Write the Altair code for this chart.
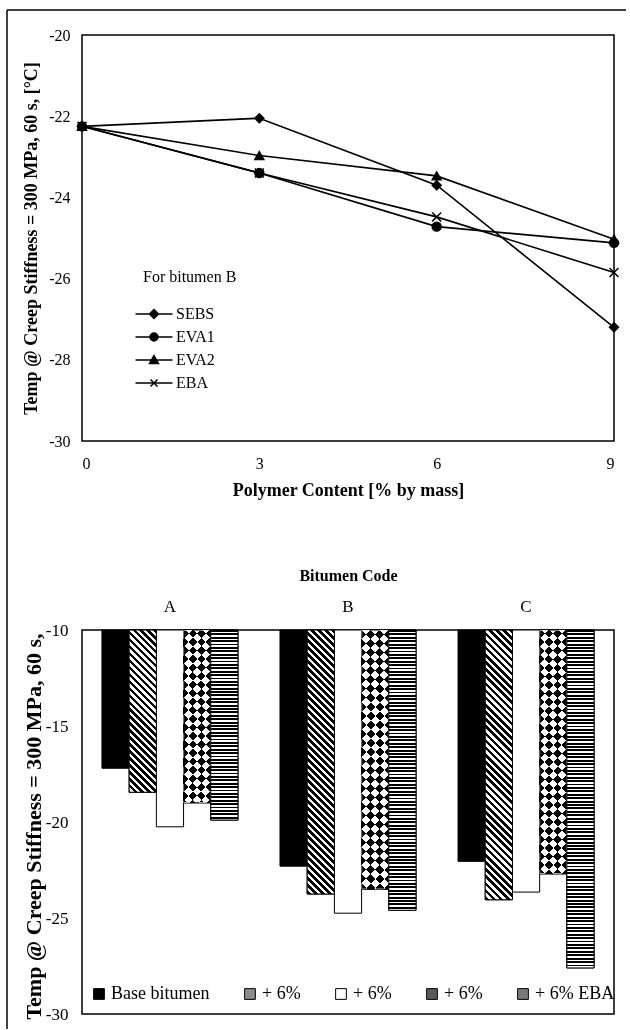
import math
import altair as alt
import pandas as pd

# ---------------- data ----------------
polymer = [0, 3, 6, 9]
line_series = ["SEBS", "EVA1", "EVA2", "EBA"]
sebs_line = [-22.25, -22.05, -23.7, -27.2]
eva1_line = [-22.25, -23.4, -24.72, -25.12]
eva2_line = [-22.25, -22.97, -23.47, -25.03]
eba_line = [-22.25, -23.4, -24.48, -25.85]

codes = ["A", "B", "C"]
bar_series = ["Base bitumen", "+ 6% SEBS", "+ 6% EVA1", "+ 6% EVA2", "+ 6% EBA"]
base_vals = [-17.2, -22.3, -22.05]
sebs_vals = [-18.45, -23.75, -24.05]
eva1_vals = [-20.25, -24.75, -23.65]
eva2_vals = [-19.0, -23.5, -22.7]
eba_vals = [-19.9, -24.6, -27.6]

top_y_ticks = [-30, -28, -26, -24, -22, -20]
bot_y_ticks = [-30, -25, -20, -15, -10]

line_rows = []
for name, vals in zip(line_series, [sebs_line, eva1_line, eva2_line, eba_line]):
    for p, v in zip(polymer, vals):
        line_rows.append({"polymer": p, "temp": v, "series": name})
line_df = pd.DataFrame(line_rows)

bar_rows = []
for name, vals in zip(bar_series, [base_vals, sebs_vals, eva1_vals, eva2_vals, eba_vals]):
    for c, v in zip(codes, vals):
        bar_rows.append({"code": c, "series": name, "value": v})
bar_df = pd.DataFrame(bar_rows)

# ---------------- style ----------------
FONT = "Liberation Serif"
W1, H1 = 532, 406
W2, H2 = 532, 384
P_IN, P_OUT = 0.236, 0.112
HYPHEN = "replace(datum.label, '\u2212', '-')"

# ---------------- top chart ----------------
x_top = alt.X("polymer:Q", scale=alt.Scale(domain=[0, 9]),
              axis=alt.Axis(values=polymer, title="Polymer Content [% by mass]",
                            labelFontSize=16, titleFontSize=18,
                            labelPadding=14, tickSize=0, titleX=W1 / 2, titleY=49,
                            titleBaseline="middle"))
y_top = alt.Y("temp:Q", scale=alt.Scale(domain=[-30, -20]),
              axis=alt.Axis(values=top_y_ticks, title="Temp @ Creep Stiffness = 300 MPa, 60 s, [°C]",
                            labelFontSize=16, titleFontSize=18,
                            labelPadding=12, tickSize=0, titleX=-51, titleY=H1 / 2,
                            titleBaseline="middle", titleAlign="center", labelExpr=HYPHEN))

frame_top_h = alt.Chart(alt.Data(values=[{}])).mark_rule(color="black", strokeWidth=1.5).encode(
    x=alt.value(-75), x2=alt.value(W1 + 12), y=alt.value(-25))
frame_top_v = alt.Chart(alt.Data(values=[{}])).mark_rule(color="black", strokeWidth=1.5).encode(
    x=alt.value(-75), y=alt.value(-25), y2=alt.value(H1 + 93))

lines = alt.Chart(line_df).mark_line(color="black", strokeWidth=1.6).encode(
    x=x_top, y=y_top, detail="series:N")

X_PATH = "M-1,-1L1,1M-1,1L1,-1"
points = alt.Chart(line_df).mark_point(fill="black", stroke="black", strokeWidth=1.5,
                                       size=80, opacity=1).encode(
    x=x_top, y=y_top,
    shape=alt.Shape("series:N", scale=alt.Scale(domain=line_series,
                                                range=["diamond", "circle", "triangle-up", X_PATH]),
                    legend=None))

# legend symbols: a line with the marker on it (markers drawn as nested outlines so they look solid)
ARM = "M-1.85,0H1.85"
leg_paths = [
    ARM + "M-0.45,0L0,-0.45L0.45,0L0,0.45ZM-0.3,0L0,-0.3L0.3,0L0,0.3ZM-0.15,0L0,-0.15L0.15,0L0,0.15Z",
    ARM + "M-0.4,0A0.4,0.4,0,1,0,0.4,0A0.4,0.4,0,1,0,-0.4,0Z"
          "M-0.25,0A0.25,0.25,0,1,0,0.25,0A0.25,0.25,0,1,0,-0.25,0Z"
          "M-0.1,0A0.1,0.1,0,1,0,0.1,0A0.1,0.1,0,1,0,-0.1,0Z",
    ARM + "M0,-0.45L0.45,0.35L-0.45,0.35ZM0,-0.2L0.25,0.25L-0.25,0.25ZM0,0L0.1,0.2L-0.1,0.2Z",
    ARM + "M-0.35,-0.35L0.35,0.35M-0.35,0.35L0.35,-0.35",
]
legend_layer = alt.Chart(line_df).transform_filter("false").mark_point(
    filled=False, color="black", strokeWidth=1.5, opacity=1).encode(
    x=x_top, y=y_top,
    shape=alt.Shape("series:N", scale=alt.Scale(domain=line_series, range=leg_paths),
                    legend=alt.Legend(title="For bitumen B", orient="none", legendX=61, legendY=234,
                                      symbolSize=400, labelOffset=11, rowPadding=4, padding=0,
                                      titlePadding=18, symbolStrokeWidth=1.5,
                                      labelFontSize=16, titleFontSize=16,
                                      symbolStrokeColor="black", symbolOpacity=1)))

top = alt.layer(frame_top_h, frame_top_v, lines, points, legend_layer).resolve_scale(
    shape="independent").properties(width=W1, height=H1)

# ---------------- bottom chart ----------------
x_bot = alt.X("code:N", scale=alt.Scale(paddingInner=P_IN, paddingOuter=P_OUT),
              axis=alt.Axis(orient="top", title="Bitumen Code", labelAngle=0, tickSize=0,
                            labelFontSize=17, titleFontSize=16,
                            labelPadding=15, titleX=W2 / 2, titleY=-55, titleBaseline="middle"))
xo_bot = alt.XOffset("series:N", scale=alt.Scale(domain=bar_series, paddingInner=0, paddingOuter=0))
y_bot = alt.Y("value:Q", scale=alt.Scale(domain=[-30, -10]),
              axis=alt.Axis(values=bot_y_ticks, title="Temp @ Creep Stiffness = 300 MPa, 60 s,",
                            labelFontSize=17, titleFontSize=22,
                            labelPadding=14, tickSize=0, titleX=-49, titleY=H2 / 2 + 4,
                            titleBaseline="middle", titleAlign="center", labelExpr=HYPHEN))
y2_bot = alt.datum(-10)

frame_bot_v = alt.Chart(alt.Data(values=[{}])).mark_rule(color="black", strokeWidth=1.5).encode(
    x=alt.value(-75), y=alt.value(-96), y2=alt.value(H2 + 15))

label_expr = ("datum.label == 'Base bitumen' || datum.label == '+ 6% EBA' "
              "? datum.label : '+ 6%'")
base_bars = alt.Chart(bar_df).mark_bar(stroke="black", strokeWidth=1).encode(
    x=x_bot, xOffset=xo_bot, y=y_bot, y2=y2_bot,
    fill=alt.Fill("series:N",
                  scale=alt.Scale(domain=bar_series,
                                  range=["black", "#8c8c8c", "white", "#5a5a5a", "#7a7a7a"]),
                  legend=alt.Legend(title=None, orient="none", legendX=8, legendY=355,
                                    direction="horizontal", columns=5, symbolType="square",
                                    symbolSize=115, symbolStrokeColor="black", symbolStrokeWidth=1,
                                    labelFontSize=18, labelOffset=3,
                                    columnPadding=31, labelExpr=label_expr, padding=0)))

step = W2 / (len(codes) - P_IN + 2 * P_OUT)
bar_w = step * (1 - P_IN) / len(bar_series)


def stops_for(n, duty, c1, c2):
    st = []
    for i in range(n):
        a, m, b = i / n, (i + duty) / n, (i + 1) / n
        st += [alt.GradientStop(offset=a, color=c1), alt.GradientStop(offset=m, color=c1),
               alt.GradientStop(offset=m, color=c2), alt.GradientStop(offset=b, color=c2)]
    return st


def hstripes(h, period, duty):
    n = max(1, round(h / period))
    return alt.LinearGradient(gradient="linear", stops=stops_for(n, duty, "black", "white"),
                              x1=0, y1=0, x2=0, y2=1)


def diag(h, period, duty, direction, c1, c2):
    r = bar_w / h
    n = max(1, round(h * (1 + r) * (1 + r * r) / (period * math.sqrt(2))))
    if direction == "back":   # "\" stripes
        return alt.LinearGradient(gradient="linear", stops=stops_for(n, duty, c1, c2),
                                  x1=1, y1=0, x2=1 - r * (1 + r), y2=1 + r)
    return alt.LinearGradient(gradient="linear", stops=stops_for(n, duty, c1, c2),
                              x1=0, y1=0, x2=r * (1 + r), y2=1 + r)


pattern_layers = []
for c, v_sebs, v_eva2, v_eba in zip(codes, sebs_vals, eva2_vals, eba_vals):
    def sel(series_name, c=c):
        return alt.Chart(bar_df).transform_filter(
            (alt.datum.code == c) & (alt.datum.series == series_name))
    enc = dict(x=x_bot, xOffset=xo_bot, y=y_bot, y2=y2_bot)
    h_sebs = (-10 - v_sebs) * H2 / 20
    h_eva2 = (-10 - v_eva2) * H2 / 20
    h_eba = (-10 - v_eba) * H2 / 20
    pattern_layers.append(sel("+ 6% SEBS").mark_bar(
        fill=diag(h_sebs, 5.0, 0.5, "back", "black", "white"), stroke="black", strokeWidth=1).encode(**enc))
    pattern_layers.append(sel("+ 6% EVA2").mark_bar(
        fill=diag(h_eva2, 12.5, 0.5, "back", "black", "white"), stroke="black", strokeWidth=1).encode(**enc))
    pattern_layers.append(sel("+ 6% EVA2").mark_bar(
        fill=diag(h_eva2, 12.5, 0.5, "fwd", "white", "black"), blend="difference",
        strokeOpacity=0).encode(**enc))
    pattern_layers.append(sel("+ 6% EBA").mark_bar(
        fill=hstripes(h_eba, 3.4, 0.55), stroke="black", strokeWidth=1).encode(**enc))

bottom = alt.layer(frame_bot_v, base_bars, *pattern_layers).properties(width=W2, height=H2)

chart = alt.vconcat(top, bottom, spacing=-4).resolve_legend(
    fill="independent", shape="independent"
).resolve_scale(fill="independent", shape="independent").properties(
    padding={"left": 5, "top": 8, "right": 0, "bottom": 0}
).configure_view(stroke="black", strokeWidth=1.5).configure_axis(
    labelFont=FONT, titleFont=FONT, labelFontSize=15, titleFontSize=15,
    titleFontWeight="bold", labelColor="black", titleColor="black",
    domain=False, ticks=False, grid=False
).configure_legend(
    labelFont=FONT, titleFont=FONT, labelFontSize=15, titleFontSize=15,
    titleFontWeight="normal", labelColor="black", titleColor="black"
)

chart.save("out.html", embed_options={"renderer": "svg", "actions": False})
